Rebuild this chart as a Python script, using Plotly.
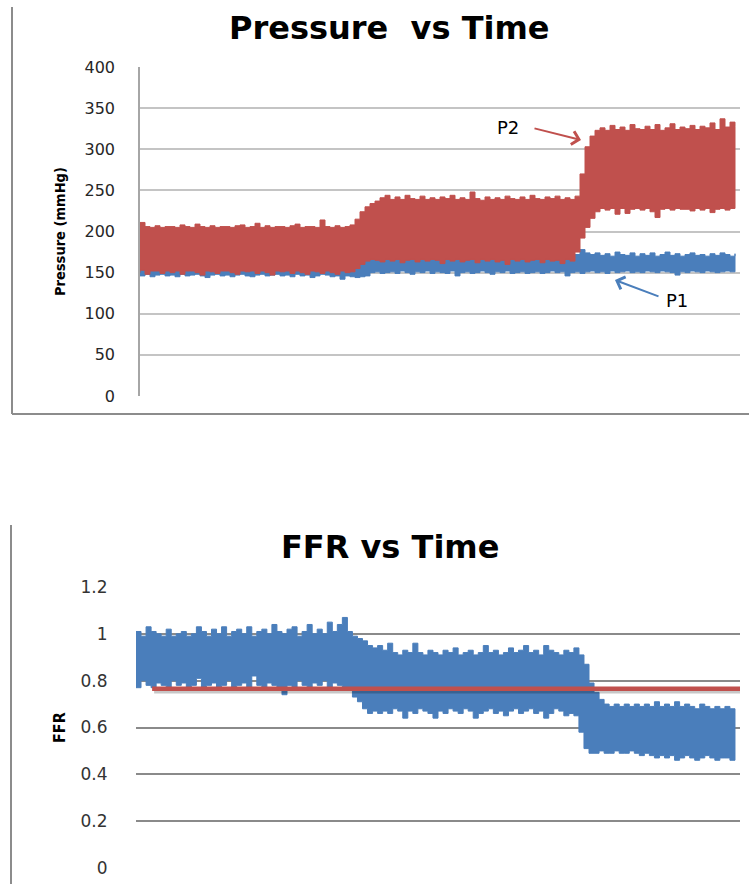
import plotly.graph_objects as go

W, H = 749, 884

# ---- time base (sample index) ----
time = list(range(0, 600, 5))

# ---- Pressure vs Time: band envelopes (mmHg) ----
p2_upper = [211, 206, 205, 207, 205, 206, 206, 205, 208, 206,
            205, 209, 206, 205, 207, 205, 206, 206, 205, 207,
            208, 205, 206, 210, 205, 207, 205, 206, 206, 205,
            207, 209, 205, 206, 206, 205, 214, 206, 205, 207,
            205, 206, 208, 215, 224, 230, 234, 237, 241, 244,
            239, 242, 239, 244, 240, 239, 243, 239, 241, 239,
            242, 240, 244, 239, 241, 239, 248, 240, 238, 242,
            239, 241, 239, 243, 240, 239, 242, 239, 244, 240,
            239, 242, 240, 243, 239, 241, 239, 243, 270, 303,
            316, 323, 326, 323, 329, 324, 327, 323, 330, 325,
            324, 328, 324, 330, 323, 326, 331, 324, 327, 325,
            329, 324, 328, 326, 332, 324, 337, 327, 333, 328]
p2_lower = [150, 153, 148, 152, 152, 149, 152, 150, 152, 148,
            152, 152, 150, 147, 152, 151, 149, 152, 152, 150,
            148, 152, 151, 152, 149, 152, 150, 147, 152, 151,
            152, 149, 152, 150, 148, 152, 151, 149, 152, 150,
            148, 152, 150, 151, 155, 160, 164, 166, 165, 163,
            166, 164, 166, 162, 165, 166, 163, 166, 164, 166,
            165, 161, 166, 164, 166, 163, 165, 166, 162, 166,
            164, 166, 163, 165, 160, 166, 164, 166, 163, 165,
            166, 162, 166, 164, 165, 161, 166, 164, 175, 192,
            205, 216, 224, 228, 226, 228, 221, 228, 222, 227,
            228, 226, 228, 224, 217, 227, 228, 226, 228, 227,
            227, 225, 228, 226, 228, 223, 227, 228, 226, 228]
p1_upper = [157, 156, 158, 157, 155, 158, 156, 157, 158, 156,
            157, 155, 158, 156, 157, 158, 155, 157, 156, 158,
            156, 157, 155, 158, 157, 156, 158, 155, 157, 156,
            158, 156, 157, 155, 158, 156, 157, 158, 155, 157,
            156, 155, 157, 156, 160, 166, 169, 170, 168, 171,
            169, 172, 170, 168, 171, 174, 169, 170, 172, 168,
            171, 169, 173, 170, 168, 171, 169, 172, 170, 174,
            169, 171, 168, 172, 170, 169, 173, 170, 171, 168,
            172, 170, 169, 171, 173, 170, 168, 172, 178, 174,
            172, 174, 171, 173, 170, 175, 172, 171, 174, 170,
            173, 171, 174, 170, 172, 175, 171, 173, 170, 172,
            174, 171, 172, 170, 173, 171, 174, 172, 170, 173]
p1_lower = [147, 146, 148, 145, 147, 148, 146, 147, 145, 148,
            146, 147, 148, 146, 144, 147, 148, 146, 147, 145,
            147, 148, 146, 145, 147, 148, 146, 147, 148, 146,
            147, 145, 148, 146, 147, 144, 146, 148, 147, 145,
            146, 142, 146, 145, 144, 145, 146, 150, 151, 149,
            150, 151, 149, 152, 150, 148, 151, 150, 152, 149,
            151, 150, 149, 152, 146, 150, 151, 149, 150, 152,
            150, 148, 151, 150, 152, 149, 150, 151, 149, 150,
            151, 149, 150, 152, 150, 151, 146, 150, 151, 149,
            151, 152, 150, 151, 149, 152, 150, 151, 152, 150,
            151, 150, 152, 151, 150, 152, 151, 150, 147, 151,
            150, 152, 151, 150, 152, 151, 150, 151, 152, 151]

# ---- FFR vs Time ----
ffr_upper = [1.01, 0.99, 1.03, 1.01, 1.00, 0.99, 1.02, 0.99, 1.00, 1.01,
             0.99, 1.00, 1.03, 1.01, 0.99, 1.02, 1.00, 1.03, 0.99, 1.01,
             1.02, 1.00, 1.03, 0.99, 1.01, 1.02, 1.00, 1.04, 1.01, 1.00,
             1.02, 1.03, 0.99, 1.01, 1.04, 1.00, 1.02, 1.00, 1.05, 1.01,
             1.04, 1.07, 1.01, 0.99, 0.98, 0.97, 0.95, 0.94, 0.95, 0.93,
             0.96, 0.92, 0.91, 0.93, 0.92, 0.96, 0.92, 0.91, 0.93, 0.92,
             0.91, 0.93, 0.92, 0.94, 0.91, 0.92, 0.93, 0.91, 0.92, 0.95,
             0.92, 0.93, 0.91, 0.92, 0.94, 0.92, 0.93, 0.95, 0.92, 0.93,
             0.91, 0.95, 0.93, 0.92, 0.91, 0.93, 0.92, 0.94, 0.91, 0.87,
             0.79, 0.75, 0.72, 0.70, 0.69, 0.70, 0.69, 0.70, 0.69, 0.70,
             0.69, 0.70, 0.69, 0.71, 0.69, 0.70, 0.69, 0.71, 0.69, 0.70,
             0.69, 0.68, 0.70, 0.69, 0.68, 0.69, 0.68, 0.69, 0.68, 0.68]
ffr_lower = [0.78, 0.77, 0.80, 0.78, 0.77, 0.79, 0.78, 0.77, 0.80, 0.78,
             0.79, 0.77, 0.78, 0.81, 0.77, 0.78, 0.79, 0.77, 0.78, 0.80,
             0.77, 0.78, 0.79, 0.77, 0.82, 0.78, 0.77, 0.79, 0.78, 0.77,
             0.74, 0.78, 0.77, 0.80, 0.78, 0.77, 0.79, 0.78, 0.80, 0.77,
             0.79, 0.78, 0.77, 0.76, 0.73, 0.71, 0.68, 0.66, 0.67, 0.66,
             0.67, 0.66, 0.68, 0.67, 0.64, 0.67, 0.66, 0.68, 0.67, 0.66,
             0.64, 0.67, 0.66, 0.68, 0.67, 0.66, 0.68, 0.67, 0.64, 0.66,
             0.67, 0.68, 0.66, 0.67, 0.65, 0.67, 0.68, 0.66, 0.67, 0.68,
             0.66, 0.67, 0.64, 0.66, 0.68, 0.67, 0.65, 0.66, 0.65, 0.58,
             0.51, 0.49, 0.49, 0.50, 0.49, 0.49, 0.50, 0.49, 0.49, 0.50,
             0.49, 0.48, 0.49, 0.48, 0.47, 0.48, 0.47, 0.48, 0.46, 0.47,
             0.48, 0.47, 0.46, 0.47, 0.48, 0.47, 0.46, 0.47, 0.47, 0.46]
ffr_threshold = 0.765
threshold_span = [16, 600]

pressure_ticks = [0, 50, 100, 150, 200, 250, 300, 350, 400]
ffr_ticks = [0, 0.2, 0.4, 0.6, 0.8, 1.0, 1.2]
ffr_ticklabels = ["0", "0.2", "0.4", "0.6", "0.8", "1", "1.2"]

RED = "#c0504d"
BLUE = "#4a7ebb"


def band(x, lo, hi, color, xa, ya):
    return go.Scatter(x=list(x) + list(x)[::-1], y=list(hi) + list(lo)[::-1],
                      fill="toself", fillcolor=color, mode="lines",
                      line=dict(color=color, width=1, shape="hv"), xaxis=xa, yaxis=ya,
                      hoverinfo="skip", showlegend=False)


fig = go.Figure()
fig.add_trace(band(time, p1_lower, p1_upper, BLUE, "x", "y"))
fig.add_trace(band(time, p2_lower, p2_upper, RED, "x", "y"))
fig.add_trace(band(time, ffr_lower, ffr_upper, BLUE, "x2", "y2"))
# shadow + threshold line
fig.add_trace(go.Scatter(x=[threshold_span[0] + 2, threshold_span[1] + 2],
                         y=[ffr_threshold - 0.009] * 2, mode="lines",
                         line=dict(color="rgba(0,0,0,0.22)", width=5),
                         xaxis="x2", yaxis="y2", showlegend=False, hoverinfo="skip"))
fig.add_trace(go.Scatter(x=threshold_span, y=[ffr_threshold] * 2, mode="lines",
                         line=dict(color=RED, width=4.5),
                         xaxis="x2", yaxis="y2", showlegend=False, hoverinfo="skip"))


def px(xp):
    return xp / W


def py(yp):
    return (H - yp) / H


tickfont_top = dict(family="DejaVu Sans", size=16, color="#262626")
tickfont_bot = dict(family="DejaVu Sans", size=17, color="#333333")

fig.update_layout(
    width=W, height=H, margin=dict(l=0, r=0, t=0, b=0, autoexpand=False),
    paper_bgcolor="white", plot_bgcolor="white", showlegend=False,
    xaxis=dict(domain=[px(140), px(740)], range=[0, 600], showticklabels=False,
               showgrid=False, zeroline=False, anchor="y", automargin=False),
    yaxis=dict(domain=[py(396), py(67)], range=[0, 400], tickvals=pressure_ticks,
               showgrid=True, gridcolor="#c4c4c4", gridwidth=1.5, zeroline=False,
               showline=True, linecolor="#a6a6a6", linewidth=1.5,
               ticks="outside", ticklen=20, tickcolor="rgba(0,0,0,0)",
               tickfont=tickfont_top, anchor="x", automargin=False),
    xaxis2=dict(domain=[px(136), px(740)], range=[0, 600], showticklabels=False,
                showgrid=False, zeroline=False, anchor="y2", automargin=False),
    yaxis2=dict(domain=[py(868), py(587)], range=[0, 1.2], tickvals=ffr_ticks,
                ticktext=ffr_ticklabels,
                showgrid=True, gridcolor="#8a8a8a", gridwidth=1.5, zeroline=False,
                showline=False, ticks="outside", ticklen=24, tickcolor="rgba(0,0,0,0)",
                tickfont=tickfont_bot, anchor="x2", automargin=False),
)

# frames
frame = dict(color="#8c8c8c", width=2)
fig.add_shape(type="line", xref="paper", yref="paper", x0=px(12), x1=px(12),
              y0=py(7), y1=py(414), line=frame)
fig.add_shape(type="line", xref="paper", yref="paper", x0=px(12), x1=1,
              y0=py(414), y1=py(414), line=frame)
fig.add_shape(type="line", xref="paper", yref="paper", x0=px(11), x1=px(11),
              y0=py(525), y1=0, line=frame)

center = dict(xref="paper", yref="paper", xanchor="center", yanchor="middle", showarrow=False)
# titles
fig.add_annotation(text="<b>Pressure\u00a0 vs Time</b>", x=px(389), y=py(28),
                   font=dict(family="DejaVu Sans", size=32, color="black"), **center)
fig.add_annotation(text="<b>FFR vs Time</b>", x=px(390), y=py(547),
                   font=dict(family="DejaVu Sans", size=32, color="black"), **center)
fig.add_annotation(text="<b>Pressure (mmHg)</b>", x=px(60), y=py(232), textangle=-90,
                   font=dict(family="Liberation Sans Narrow, DejaVu Sans Condensed, Roboto",
                             size=14.5, color="black"), **center)
fig.add_annotation(text="<b>FFR</b>", x=px(59), y=py(728), textangle=-90,
                   font=dict(family="Liberation Sans Narrow, DejaVu Sans Condensed, Roboto",
                             size=16, color="black"), **center)

# series labels with arrows
fig.add_annotation(text="P2", x=px(508), y=py(127),
                   font=dict(family="DejaVu Sans", size=18, color="black"), **center)
fig.add_annotation(text="", xref="paper", yref="paper", x=px(581), y=py(140),
                   ax=-48, ay=-12, showarrow=True, arrowhead=4, arrowsize=1.3,
                   arrowwidth=2, arrowcolor=RED)
fig.add_annotation(text="P1", x=px(677), y=py(300),
                   font=dict(family="DejaVu Sans", size=18, color="black"), **center)
fig.add_annotation(text="", xref="paper", yref="paper", x=px(615), y=py(280),
                   ax=45, ay=17, showarrow=True, arrowhead=4, arrowsize=1.3,
                   arrowwidth=2, arrowcolor=BLUE)

fig.write_html("out.html", config={"displayModeBar": False},
               post_script="document.body.style.margin='0';document.body.style.overflow='hidden';")
